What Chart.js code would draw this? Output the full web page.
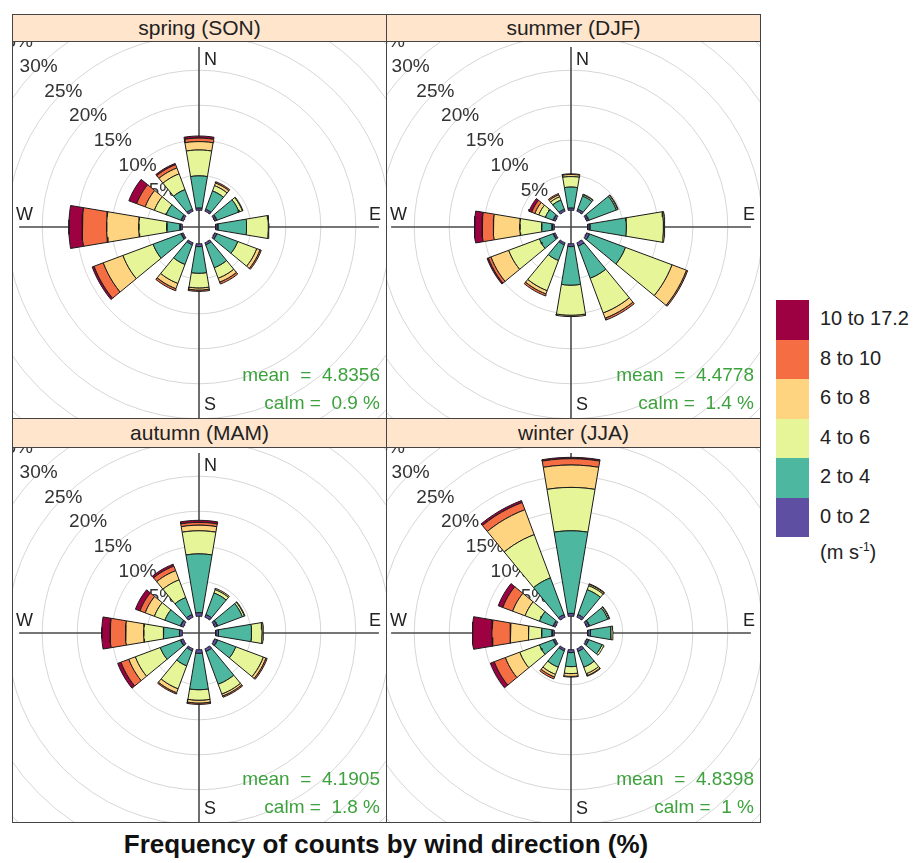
<!DOCTYPE html>
<html lang="en">
  <head>
    <meta charset="UTF-8" />
    <title>Wind rose by season</title>
  </head>
  <style>
    * {
      margin: 0;
      padding: 0;
      font-family: "Liberation Sans", Arial, sans-serif;
    }
    body {
      width: 924px;
      height: 863px;
      background: white;
      position: relative;
      overflow: hidden;
    }
    .strip {
      position: absolute;
      background: #ffe5cc;
      color: #222;
      font-size: 21px;
      text-align: center;
      box-sizing: border-box;
      border-bottom: 1px solid #444;
    }
    .frame {
      position: absolute;
      border: 1px solid #444;
      box-sizing: border-box;
      pointer-events: none;
    }
    canvas {
      position: absolute;
    }
    .key {
      position: absolute;
      left: 776px;
      width: 33px;
    }
    .keyLabel {
      position: absolute;
      left: 820px;
      font-size: 20px;
      color: #222;
      white-space: nowrap;
    }
    .title {
      position: absolute;
      left: 0;
      width: 772px;
      top: 829px;
      text-align: center;
      font-size: 26px;
      font-weight: bold;
      color: #111;
    }
  </style>
  <body>
    <div class="title">Frequency of counts by wind direction (%)</div>

    <script src="https://cdn.jsdelivr.net/npm/chart.js"></script>

    <script>
      // ---- data ----
      const directions = [0, 30, 60, 90, 120, 150, 180, 210, 240, 270, 300, 330];
      const speedBins = ["0 to 2", "2 to 4", "4 to 6", "6 to 8", "8 to 10", "10 to 17.2"];
      const binColours = ["#5e4fa2", "#4db79f", "#e6f598", "#fed480", "#f46d43", "#9e0142"];
      const ringLevels = [5, 10, 15, 20, 25, 30, 35];

      const seasons = ["spring (SON)", "summer (DJF)", "autumn (MAM)", "winter (JJA)"];
      const meanSpeed = ["4.8356", "4.4778", "4.1905", "4.8398"];
      const calmPct = ["0.9", "1.4", "1.8", "1"];

      // one row per direction: % of counts in each speed bin (0-2, 2-4, 4-6, 6-8, 8-10, 10+)
      const springFreq = [
        [0.3, 4.6, 3.7, 1.2, 0.5, 0.3],
        [0.3, 2.8, 0.8, 0.4, 0.2, 0],
        [0.3, 3.4, 0.5, 0.1, 0, 0],
        [0.3, 4.1, 3.1, 0.1, 0, 0],
        [0.3, 3.2, 2.9, 0.5, 0.2, 0],
        [0.3, 3.5, 1.6, 0.6, 0.3, 0],
        [0.4, 3.8, 2.1, 0.3, 0.2, 0],
        [0.3, 3.0, 2.9, 0.8, 0.3, 0],
        [0.3, 4.3, 4.6, 3.0, 1.4, 0.3],
        [0.3, 1.9, 4.0, 4.6, 3.5, 1.9],
        [0.3, 2.3, 1.8, 1.4, 1.3, 1.2],
        [0.3, 3.0, 2.4, 0.9, 0.5, 0.2]
      ];
      const summerFreq = [
        [0.3, 3.0, 1.5, 0.3, 0.1, 0],
        [0.3, 2.0, 0.2, 0.1, 0, 0],
        [0.3, 4.2, 0.2, 0.1, 0, 0],
        [0.3, 5.2, 5.3, 0.2, 0, 0],
        [0.4, 5.5, 7.1, 2.2, 0.2, 0],
        [0.5, 4.9, 5.3, 0.8, 0.3, 0],
        [0.4, 5.5, 4.3, 0.2, 0, 0],
        [0.3, 2.4, 4.6, 0.5, 0.3, 0],
        [0.3, 2.1, 4.7, 2.7, 0.4, 0.2],
        [0.3, 1.5, 3.1, 3.8, 1.6, 1.1],
        [0.3, 1.2, 1.0, 0.6, 0.5, 0.4],
        [0.3, 1.4, 0.5, 0.3, 0.2, 0]
      ];
      const autumnFreq = [
        [0.5, 8.4, 3.3, 0.8, 0.4, 0.3],
        [0.4, 3.3, 0.5, 0.2, 0, 0],
        [0.4, 3.8, 0.3, 0.1, 0, 0],
        [0.4, 4.7, 1.5, 0.2, 0, 0],
        [0.4, 2.8, 4.2, 0.4, 0.2, 0],
        [0.4, 5.0, 1.5, 0.3, 0.2, 0],
        [0.5, 5.2, 1.5, 0.4, 0.2, 0],
        [0.3, 2.3, 3.5, 0.6, 0.2, 0],
        [0.4, 3.1, 3.8, 1.0, 1.2, 0.5],
        [0.4, 2.3, 2.8, 2.6, 2.2, 1.2],
        [0.4, 2.4, 1.6, 1.4, 0.8, 0.7],
        [0.4, 2.6, 2.7, 1.4, 0.7, 0.3]
      ];
      const winterFreq = [
        [0.4, 11.8, 6.2, 3.2, 0.9, 0.2],
        [0.4, 3.8, 0.6, 0.2, 0.1, 0],
        [0.4, 2.8, 0.2, 0.1, 0, 0],
        [0.4, 2.9, 0.3, 0, 0, 0],
        [0.3, 2.0, 0.3, 0, 0, 0],
        [0.4, 2.4, 1.0, 0.3, 0.1, 0],
        [0.4, 2.0, 1.0, 0.4, 0.1, 0],
        [0.3, 2.5, 1.1, 0.4, 0.3, 0],
        [0.3, 2.1, 3.0, 2.2, 1.7, 0.6],
        [0.3, 1.5, 1.9, 2.6, 2.6, 2.8],
        [0.3, 2.1, 2.2, 1.9, 1.5, 0.7],
        [0.4, 5.6, 6.6, 3.8, 1.1, 0.3]
      ];
      const seasonFreq = [springFreq, summerFreq, autumnFreq, winterFreq];

      // ---- layout ----
      const PX_PER_PCT = 7;   // pixels per 1 %
      const OFFSET = 2.4;     // hollow centre, in % units
      const HALF_ANGLE = 9.5; // half width of a wedge, degrees
      const AXIS_LEN = 25.7;  // N-S / E-W lines, in scale units
      const FONT = "'Liberation Sans', Arial, sans-serif";

      const panels = [
        { left: 12, top: 14, stripH: 28, plotH: 376, cx: 187, cy: 185 },
        { left: 386, top: 14, stripH: 28, plotH: 376, cx: 185, cy: 185 },
        { left: 12, top: 418, stripH: 30, plotH: 374, cx: 187, cy: 185 },
        { left: 386, top: 418, stripH: 30, plotH: 374, cx: 185, cy: 185 }
      ];
      const PANEL_W = 374;

      function wedge(theta, lo, hi) {
        const n = 6;
        const pts = [];
        for (let i = 0; i <= n; i++) {
          const a = ((theta - HALF_ANGLE + (2 * HALF_ANGLE * i) / n) * Math.PI) / 180;
          pts.push({ x: (OFFSET + lo) * Math.sin(a), y: (OFFSET + lo) * Math.cos(a) });
        }
        for (let i = n; i >= 0; i--) {
          const a = ((theta - HALF_ANGLE + (2 * HALF_ANGLE * i) / n) * Math.PI) / 180;
          pts.push({ x: (OFFSET + hi) * Math.sin(a), y: (OFFSET + hi) * Math.cos(a) });
        }
        pts.push(pts[0]);
        return pts;
      }

      function roseDatasets(freq) {
        const sets = [];
        directions.forEach((theta, d) => {
          let cum = 0;
          freq[d].forEach((v, b) => {
            if (v > 0) {
              sets.push({
                data: wedge(theta, cum, cum + v),
                showLine: true,
                fill: "shape",
                backgroundColor: binColours[b],
                borderColor: "#1b1b1b",
                borderWidth: 1,
                pointRadius: 0,
                tension: 0
              });
            }
            cum += v;
          });
        });
        return sets;
      }

      // grid rings, axes and text, placed through the chart scales
      const roseDecor = {
        id: "roseDecor",
        beforeDatasetsDraw(chart, args, opts) {
          const { ctx, chartArea, scales } = chart;
          const x = scales.x, y = scales.y;
          const cx = x.getPixelForValue(0), cy = y.getPixelForValue(0);
          ctx.save();
          ctx.beginPath();
          ctx.rect(chartArea.left, chartArea.top, chartArea.width, chartArea.height);
          ctx.clip();

          ctx.strokeStyle = "#d6d6d6";
          ctx.lineWidth = 1;
          ringLevels.forEach((p) => {
            const r = x.getPixelForValue(OFFSET + p) - cx;
            ctx.beginPath();
            ctx.arc(cx, cy, r, 0, 2 * Math.PI);
            ctx.stroke();
          });

          ctx.strokeStyle = "#4a4a4a";
          ctx.lineWidth = 1.6;
          ctx.beginPath();
          ctx.moveTo(x.getPixelForValue(-AXIS_LEN), cy);
          ctx.lineTo(x.getPixelForValue(AXIS_LEN), cy);
          ctx.moveTo(cx, y.getPixelForValue(AXIS_LEN));
          ctx.lineTo(cx, y.getPixelForValue(-AXIS_LEN - 2));
          ctx.stroke();

          ctx.fillStyle = "#333";
          ctx.font = "19px " + FONT;
          ctx.textAlign = "center";
          ctx.textBaseline = "middle";
          const s = Math.SQRT1_2;
          ringLevels.forEach((p) => {
            const r = OFFSET + p;
            ctx.fillText(p + "%", x.getPixelForValue(-r * s), y.getPixelForValue(r * s));
          });

          ctx.fillStyle = "#222";
          ctx.font = "18px " + FONT;
          ctx.textAlign = "left";
          ctx.fillText("N", cx + 5, y.getPixelForValue(AXIS_LEN - 1.8));
          ctx.fillText("S", cx + 5, chartArea.bottom - 13);
          ctx.fillText("W", chartArea.left + 4, cy - 12);
          ctx.textAlign = "right";
          ctx.fillText("E", chartArea.right - 5, cy - 12);
          ctx.restore();
        },
        afterDatasetsDraw(chart, args, opts) {
          const { ctx, chartArea } = chart;
          ctx.save();
          ctx.fillStyle = "#3da23d";
          ctx.font = "19px " + FONT;
          ctx.textAlign = "right";
          ctx.textBaseline = "middle";
          ctx.fillText("mean  =  " + opts.mean, chartArea.right - 6, chartArea.bottom - 42);
          ctx.fillText("calm =  " + opts.calm + " %", chartArea.right - 6, chartArea.bottom - 14);
          ctx.restore();
        }
      };

      panels.forEach((p, i) => {
        const strip = document.createElement("div");
        strip.className = "strip";
        strip.style.left = p.left + "px";
        strip.style.top = p.top + "px";
        strip.style.width = PANEL_W + 1 + "px";
        strip.style.height = p.stripH + "px";
        strip.style.lineHeight = p.stripH - 1 + "px";
        strip.textContent = seasons[i];
        document.body.appendChild(strip);

        const canvas = document.createElement("canvas");
        canvas.width = PANEL_W;
        canvas.height = p.plotH;
        canvas.style.left = p.left + "px";
        canvas.style.top = p.top + p.stripH + "px";
        canvas.style.width = PANEL_W + "px";
        canvas.style.height = p.plotH + "px";
        document.body.appendChild(canvas);

        const frame = document.createElement("div");
        frame.className = "frame";
        frame.style.left = p.left + "px";
        frame.style.top = p.top + "px";
        frame.style.width = PANEL_W + 1 + "px";
        frame.style.height = p.stripH + p.plotH + 1 + "px";
        document.body.appendChild(frame);

        new Chart(canvas, {
          type: "scatter",
          data: { datasets: roseDatasets(seasonFreq[i]) },
          options: {
            responsive: false,
            animation: false,
            layout: { padding: 0 },
            scales: {
              x: { type: "linear", min: -p.cx / PX_PER_PCT, max: (PANEL_W - p.cx) / PX_PER_PCT, display: false },
              y: { type: "linear", min: -(p.plotH - p.cy) / PX_PER_PCT, max: p.cy / PX_PER_PCT, display: false }
            },
            plugins: {
              legend: { display: false },
              tooltip: { enabled: false },
              roseDecor: { mean: meanSpeed[i], calm: calmPct[i] }
            }
          },
          plugins: [roseDecor]
        });
      });

      // speed key, top to bottom from the fastest bin
      const keyTop = 300, keyH = 39.5;
      for (let k = 0; k < speedBins.length; k++) {
        const b = speedBins.length - 1 - k;
        const box = document.createElement("div");
        box.className = "key";
        box.style.top = keyTop + k * keyH + "px";
        box.style.height = keyH + "px";
        box.style.background = binColours[b];
        document.body.appendChild(box);
        const lab = document.createElement("div");
        lab.className = "keyLabel";
        lab.style.top = keyTop + k * keyH + 7 + "px";
        lab.textContent = speedBins[b];
        document.body.appendChild(lab);
      }
      const unit = document.createElement("div");
      unit.className = "keyLabel";
      unit.style.top = keyTop + 6 * keyH + 3 + "px";
      unit.innerHTML = "(m s<sup style='font-size:12px'>-1</sup>)";
      document.body.appendChild(unit);
    </script>
  </body>
</html>
